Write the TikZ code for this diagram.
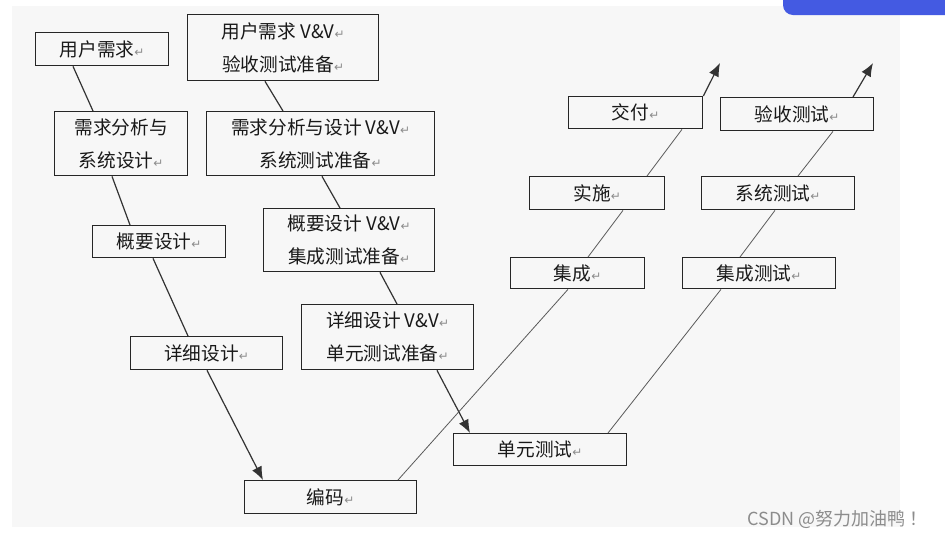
\documentclass[tikz,border=0pt]{standalone}
\usepackage{fontspec}
\setmainfont{Noto Sans CJK SC}
\newfontfamily\symfont{DejaVu Sans}
\usetikzlibrary{arrows.meta,calc}
\definecolor{csdnblue}{RGB}{68,90,226}
\definecolor{panelgray}{RGB}{247,247,247}
\newcommand{\crmark}{{\symfont\color{black!45}\small ↵}}

\begin{document}
\begin{tikzpicture}[x=0.75pt, y=-0.75pt,
    blk/.style 2 args={draw=black!85, line width=1pt, anchor=north west, inner sep=0pt,
        minimum width=#1*0.75pt, minimum height=#2*0.75pt, align=center,
        text=black!90, font=\fontsize{14}{24.5}\selectfont},
    lk/.style={line width=0.9pt, black!80},
    up/.style={line width=0.6pt, black!65},
    tip/.style={-{Latex[length=10pt, width=8pt]}}]

        % --- SFONDO ---
        \useasboundingbox (0,0) rectangle (945,537);
        \fill[white] (0,0) rectangle (945,537);
        \fill[panelgray] (12,6) rectangle (900,527);
        \fill[csdnblue] (783,0) -- (783,5) arc[start angle=180, end angle=90, radius=10]
            -- (945,15) -- (945,0) -- cycle;

        % --- RAMO SINISTRO: sviluppo ---
        \node[blk={133}{33}] (yhxq) at (35,32) {用户需求\crmark};
        \node[blk={133}{64}] (xqfx) at (54,111) {需求分析与\\系统设计\crmark};
        \node[blk={133}{32}] (gysj) at (92,225) {概要设计\crmark};
        \node[blk={152}{33}] (xxsj) at (130,336) {详细设计\crmark};
        \node[blk={172}{33}] (bm) at (244,480) {编码\crmark};

        % --- RAMO V&V ---
        \node[blk={191}{66}] (yhvv) at (187,14) {用户需求 V\&V\crmark\\验收测试准备\crmark};
        \node[blk={228}{64}] (xqvv) at (206,111) {需求分析与设计 V\&V\crmark\\系统测试准备\crmark};
        \node[blk={171}{63}] (gyvv) at (263,208) {概要设计 V\&V\crmark\\集成测试准备\crmark};
        \node[blk={172}{65}] (xxvv) at (301,304) {详细设计 V\&V\crmark\\单元测试准备\crmark};
        \node[blk={173}{32}] (dycs) at (453,433) {单元测试\crmark};

        % --- RAMI DESTRI: salita ---
        \node[blk={134}{31}] (jc) at (510,257) {集成\crmark};
        \node[blk={135}{33}] (ss) at (529,176) {实施\crmark};
        \node[blk={134}{32}] (jf) at (568,96) {交付\crmark};
        \node[blk={153}{31}] (jccs) at (682,257) {集成测试\crmark};
        \node[blk={153}{33}] (xtcs) at (701,176) {系统测试\crmark};
        \node[blk={153}{33}] (yscs) at (720,97) {验收测试\crmark};

        \coordinate (jfend) at (720,63);
        \coordinate (ysend) at (873,63);

        % Collegamenti a sinistra
        \draw[lk] ($(yhxq.south west)+(38,0)$) -- ($(xqfx.north west)+(39,0)$);
        \draw[lk] ($(xqfx.south west)+(58,0)$) -- ($(gysj.north west)+(38,0)$);
        \draw[lk] ($(gysj.south west)+(61,0)$) -- ($(xxsj.north west)+(58,0)$);
        \draw[lk, tip] ($(xxsj.south west)+(77,0)$) -- ($(bm.north west)+(19,0)$);

        % Collegamenti V&V
        \draw[lk] ($(yhvv.south west)+(78,0)$) -- ($(xqvv.north west)+(77,0)$);
        \draw[lk] ($(xqvv.south west)+(116,0)$) -- ($(gyvv.north west)+(77,0)$);
        \draw[lk] ($(gyvv.south west)+(117,0)$) -- ($(xxvv.north west)+(96,0)$);
        \draw[lk, tip] ($(xxvv.south west)+(136,0)$) -- ($(dycs.north west)+(17,0)$);

        % Salita: codifica -> consegna
        \draw[up] ($(bm.north west)+(154,0)$) -- ($(jc.south west)+(58,0)$);
        \draw[up] ($(jc.north west)+(78,0)$) -- ($(ss.south west)+(94,0)$);
        \draw[up] ($(ss.north west)+(118,0)$) -- ($(jf.south west)+(114,0)$);
        \draw[lk, tip] (jf.north east) -- (jfend);

        % Salita: test di unita' -> collaudo
        \draw[up] ($(dycs.north west)+(155,0)$) -- ($(jccs.south west)+(39,0)$);
        \draw[up] ($(jccs.north west)+(58,0)$) -- ($(xtcs.south west)+(74,0)$);
        \draw[up] ($(xtcs.north west)+(97,0)$) -- ($(yscs.south west)+(113,0)$);
        \draw[lk, tip] ($(yscs.north west)+(133,0)$) -- (ysend);

        % Firma
        \node[anchor=west, text=black!45, font=\fontsize{13.5}{15}\selectfont, inner sep=0pt]
            (firma) at (747,519) {CSDN @努力加油鸭 ！};

    \end{tikzpicture}
\end{document}
